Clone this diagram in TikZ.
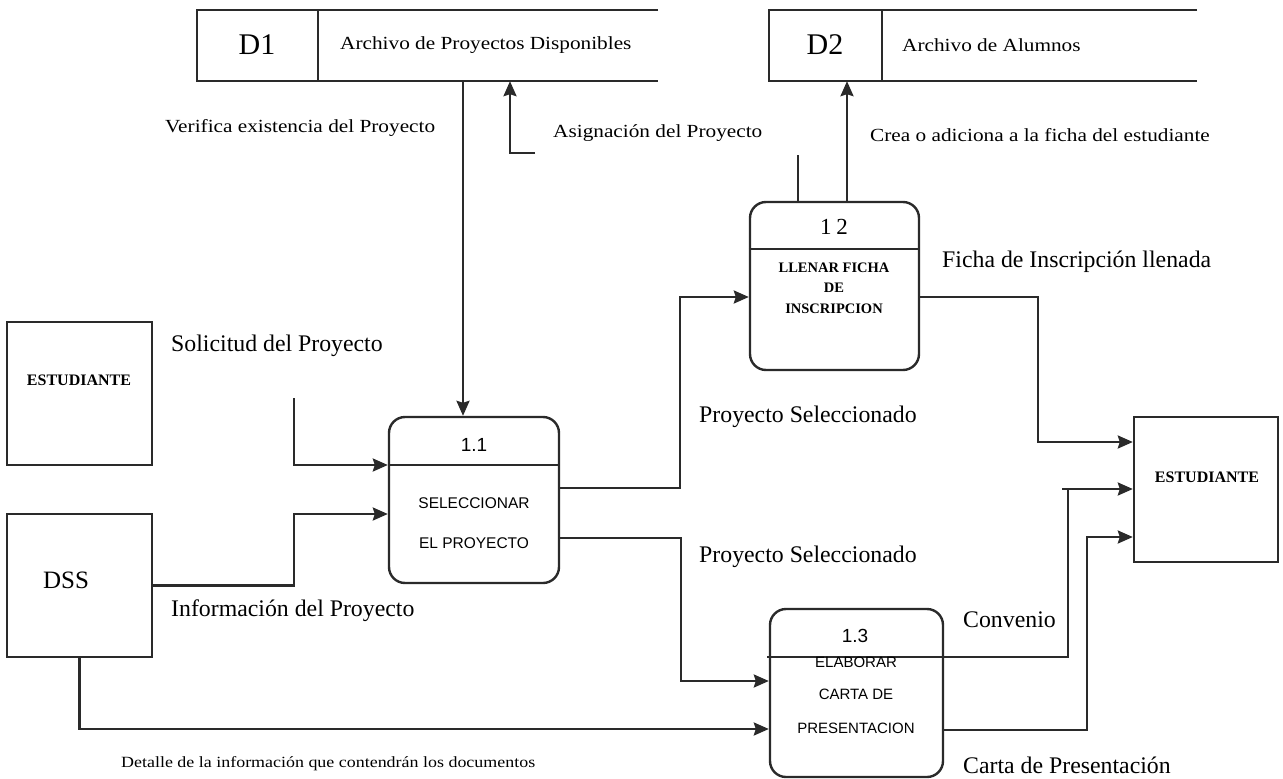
\documentclass[tikz,border=0pt]{standalone}
\usepackage{fontspec}
\setmainfont{Liberation Serif}
\newfontfamily\labelfont[FakeStretch=1.15]{Liberation Serif}
\newfontfamily\procsans{Liberation Sans}
\usetikzlibrary{arrows.meta}
\definecolor{ink}{HTML}{2A2A2A}

\begin{document}
\begin{tikzpicture}[x=1pt,y=-1pt,
  line/.style={draw=ink, line width=2.4pt},
  flow/.style={line, -{Stealth[length=15pt,width=13pt,inset=2pt]}},
  boxnode/.style={line, inner sep=0pt},
  procnode/.style={line, rounded corners=16pt, inner sep=0pt},
  bigtext/.style={font=\fontsize{23.8}{26}\selectfont, inner sep=0pt, anchor=west},
  smalltext/.style={font=\labelfont\fontsize{18.5}{22}\selectfont, inner sep=0pt, anchor=west},
  storeid/.style={font=\fontsize{30}{32}\selectfont, inner sep=0pt},
  entname/.style={font=\bfseries\fontsize{16}{18}\selectfont, inner sep=0pt},
  procnum/.style={font=\procsans\fontsize{19}{21}\selectfont, inner sep=0pt},
  procsan/.style={font=\procsans\fontsize{15.5}{18}\selectfont, inner sep=0pt},
  procser/.style={font=\bfseries\fontsize{14.5}{16}\selectfont, inner sep=0pt},
]
\fill[white] (0,0) rectangle (1283,779);
\useasboundingbox (0,0) rectangle (1283,779);

% ---------- data stores (open on the right) ----------
\node[inner sep=0pt, minimum width=461pt, minimum height=71pt] (d1) at (427.5,45.5) {};
\draw[line] (d1.north east) -- (d1.north west) -- (d1.south west) -- (d1.south east);
\draw[line] (318,0 |- d1.north) -- (318,0 |- d1.south);
\node[storeid] (d1id) at (257,45) {D1};
\node[smalltext] (d1name) at (340,45) {Archivo de Proyectos Disponibles};

\node[inner sep=0pt, minimum width=428pt, minimum height=71pt] (d2) at (983,45.5) {};
\draw[line] (d2.north east) -- (d2.north west) -- (d2.south west) -- (d2.south east);
\draw[line] (882,0 |- d2.north) -- (882,0 |- d2.south);
\node[storeid] (d2id) at (825,45) {D2};
\node[smalltext] (d2name) at (902,45) {Archivo de Alumnos};

% ---------- external entities ----------
\node[boxnode, minimum width=145pt, minimum height=143pt] (est1) at (79.5,393.5) {};
\node[entname] (est1t) at (79,380) {ESTUDIANTE};

\node[boxnode, minimum width=145pt, minimum height=143pt] (dss) at (79.5,585.5) {};
\node[font=\fontsize{25}{27}\selectfont, inner sep=0pt] (dsst) at (66,580) {DSS};

\node[boxnode, minimum width=144pt, minimum height=145pt] (est2) at (1206,489.5) {};
\node[entname] (est2t) at (1207,477) {ESTUDIANTE};

% ---------- processes ----------
\node[procnode, minimum width=170pt, minimum height=166pt] (p11) at (474,500) {};
\draw[line] (p11.west |- 0,465) -- (p11.east |- 0,465);
\node[procnum] (p11n) at (474,445) {1.1};
\node[procsan] (p11a) at (474,503) {SELECCIONAR};
\node[procsan] (p11b) at (474,543) {EL PROYECTO};

\node[procnode, minimum width=169pt, minimum height=168pt] (p12) at (834.5,286) {};
\draw[line] (p12.west |- 0,249) -- (p12.east |- 0,249);
\node[font=\fontsize{23}{25}\selectfont, inner sep=0pt] (p12n) at (834,227) {1\hspace{5pt}2};
\node[procser] (p12a) at (834,268) {LLENAR FICHA};
\node[procser] (p12b) at (834,288) {DE};
\node[procser] (p12c) at (834,309) {INSCRIPCION};

\node[procnode, minimum width=173pt, minimum height=168pt] (p13) at (856.5,693) {};
\draw[line] (767,657) -- (p13.east |- 0,657);
\node[procnum] (p13n) at (855,636) {1.3};
\node[procsan, font=\procsans\fontsize{15}{17}\selectfont] (p13a) at (856,662) {ELABORAR};
\node[procsan, font=\procsans\fontsize{15}{17}\selectfont] (p13b) at (856,694) {CARTA DE};
\node[procsan, font=\procsans\fontsize{15}{17}\selectfont] (p13c) at (856,728) {PRESENTACION};

% ---------- data flows ----------
\draw[flow] (463,0 |- d1.south) -- (463,0 |- p11.north);
\coordinate (asg) at (535,153);
\draw[flow] (asg) -| (510,0 |- d1.south);

\coordinate (sol) at (294,398);
\draw[flow] (sol) |- (p11.west |- 0,465);
\draw[flow] (dss.east) -| (294,514) -- (p11.west |- 0,514);
\draw[flow] (dss.south) |- (p13.west |- 0,729);

\draw[flow] (p11.east |- 0,488) -| (680,297) -- (p12.west |- 0,297);
\draw[flow] (p11.east |- 0,538) -| (681,681) -- (p13.west |- 0,681);

\coordinate (stub) at (798,155);
\draw[line] (stub) -- (798,0 |- p12.north);
\draw[flow] (847,0 |- p12.north) -- (847,0 |- d2.south);

\draw[flow] (p12.east |- 0,297) -| (1038,442) -- (est2.west |- 0,442);
\draw[flow] (p13.east |- 0,657) -| (1068,489) -- (1062,489) -- (est2.west |- 0,489);
\draw[flow] (p13.east |- 0,730) -| (1087,537) -- (est2.west |- 0,537);

% ---------- flow labels ----------
\node[smalltext] (l1) at (165,128) {Verifica existencia del Proyecto};
\node[smalltext] (l2) at (553,133) {Asignación del Proyecto};
\node[smalltext] (l3) at (870,135) {Crea o adiciona a la ficha del estudiante};
\node[bigtext] (l4) at (942,262) {Ficha de Inscripción llenada};
\node[bigtext] (l5) at (171,346) {Solicitud del Proyecto};
\node[bigtext] (l6) at (699,417) {Proyecto Seleccionado};
\node[bigtext] (l7) at (699,557) {Proyecto Seleccionado};
\node[bigtext] (l8) at (171,611) {Información del Proyecto};
\node[bigtext] (l9) at (963,620) {Convenio};
\node[bigtext] (l10) at (963,765) {Carta de Presentación};
\node[smalltext, font=\labelfont\fontsize{15.6}{18}\selectfont] (l11) at (121,764) {Detalle de la información que contendrán los documentos};
\end{tikzpicture}
\end{document}
